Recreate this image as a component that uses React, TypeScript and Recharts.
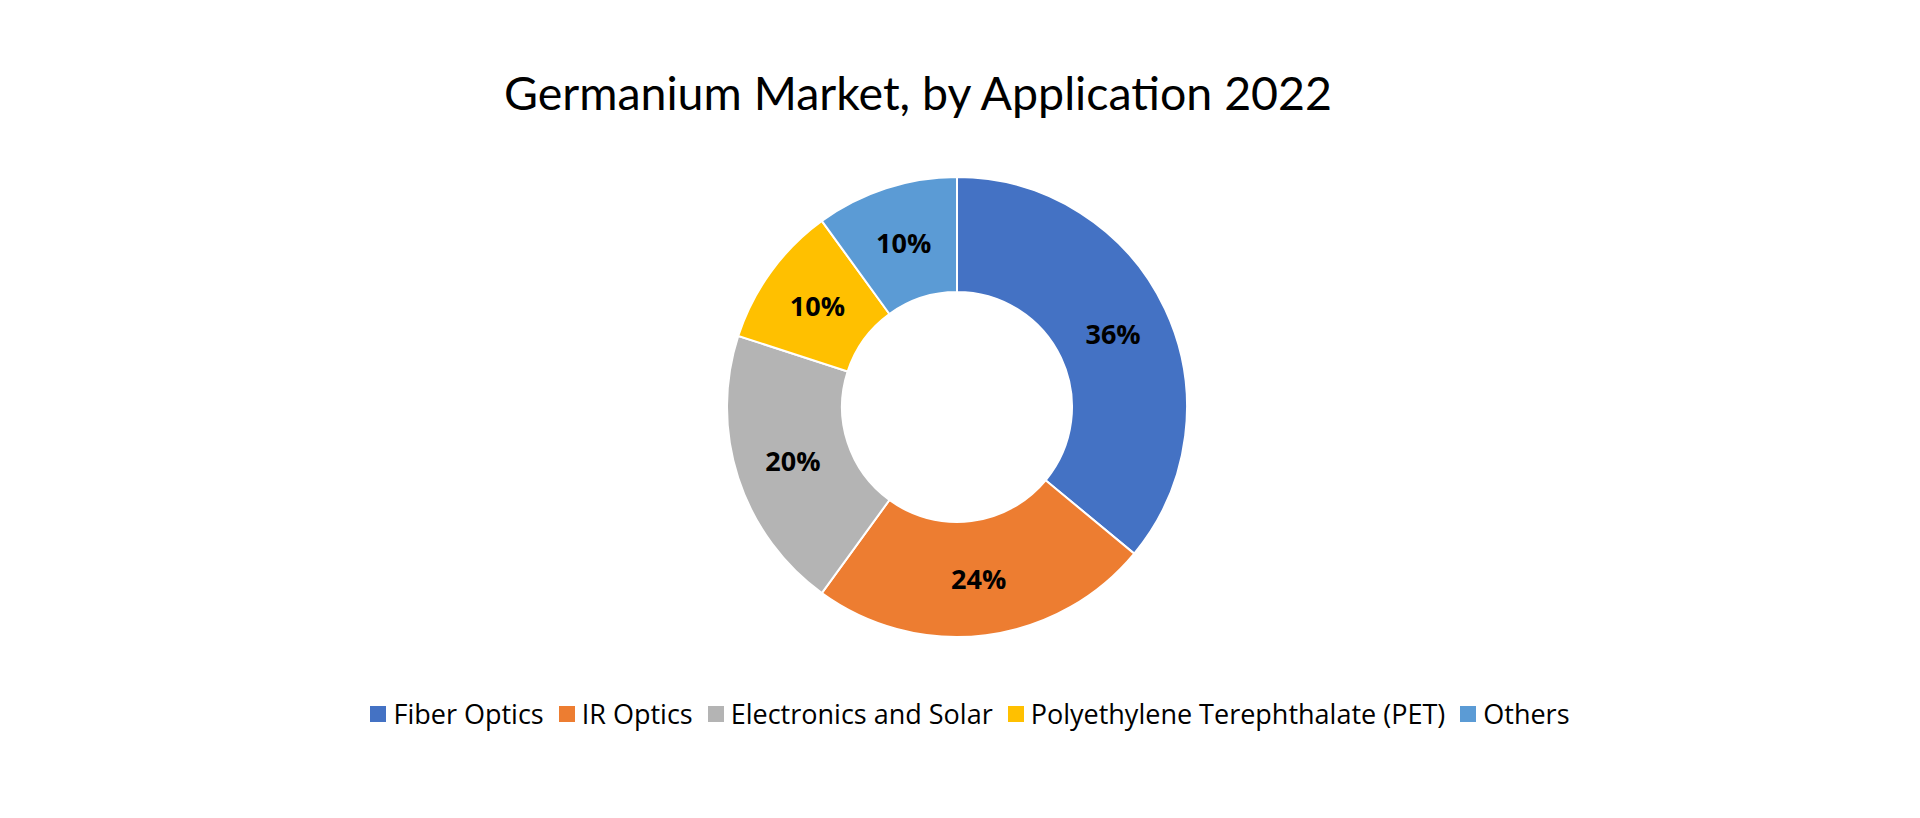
import React from 'react';
import { PieChart, Pie, Cell, Legend } from 'recharts';

const categories = ['Fiber Optics', 'IR Optics', 'Electronics and Solar', 'Polyethylene Terephthalate (PET)', 'Others'];
const shares = [36, 24, 20, 10, 10];
const colors = ['#4472C4', '#ED7D31', '#B4B4B4', '#FFC000', '#5B9BD5'];

const data = categories.map((name, i) => ({ name, value: shares[i] }));

const RADIAN = Math.PI / 180;

const renderLabel = ({ cx, cy, midAngle, innerRadius, outerRadius, value }: any) => {
  const r = (innerRadius + outerRadius) / 2;
  const x = cx + r * Math.cos(-midAngle * RADIAN);
  const y = cy + r * Math.sin(-midAngle * RADIAN);
  return (
    <text
      x={x}
      y={y}
      fill="#000"
      textAnchor="middle"
      dominantBaseline="central"
      style={{ fontFamily: 'Open Sans', fontWeight: 700, fontSize: 27 }}
    >
      {`${value}%`}
    </text>
  );
};

const LegendContent = () => (
  <div
    style={{
      display: 'flex',
      justifyContent: 'center',
      alignItems: 'center',
      fontFamily: 'Open Sans',
      fontSize: 27,
      color: '#000',
      gap: 15,
    }}
  >
    {categories.map((c, i) => (
      <div key={c} style={{ display: 'flex', alignItems: 'center' }}>
        <span style={{ width: 16, height: 16, background: colors[i], display: 'inline-block', marginRight: 7 }} />
        <span>{c}</span>
      </div>
    ))}
  </div>
);

export default function App() {
  return (
    <div style={{ position: 'absolute', left: 0, top: 0, width: 1920, height: 818, background: '#fff' }}>
      <div
        style={{
          position: 'absolute',
          left: 0,
          top: 62,
          width: 1836,
          textAlign: 'center',
          fontFamily: 'Lato',
          fontSize: 46.5,
          color: '#000',
          lineHeight: '60px',
        }}
      >
        Germanium Market, by Application 2022
      </div>
      <PieChart width={1920} height={818}>
        <Pie
          data={data}
          dataKey="value"
          nameKey="name"
          cx={952}
          cy={402}
          innerRadius={115}
          outerRadius={230}
          startAngle={90}
          endAngle={-270}
          stroke="#fff"
          strokeWidth={2}
          labelLine={false}
          label={renderLabel}
          isAnimationActive={false}
        >
          {data.map((entry, i) => (
            <Cell key={`cell-${i}`} fill={colors[i]} />
          ))}
        </Pie>
        <Legend
          content={<LegendContent />}
          wrapperStyle={{ top: 695, left: 10, width: 1920 }}
        />
      </PieChart>
    </div>
  );
}
